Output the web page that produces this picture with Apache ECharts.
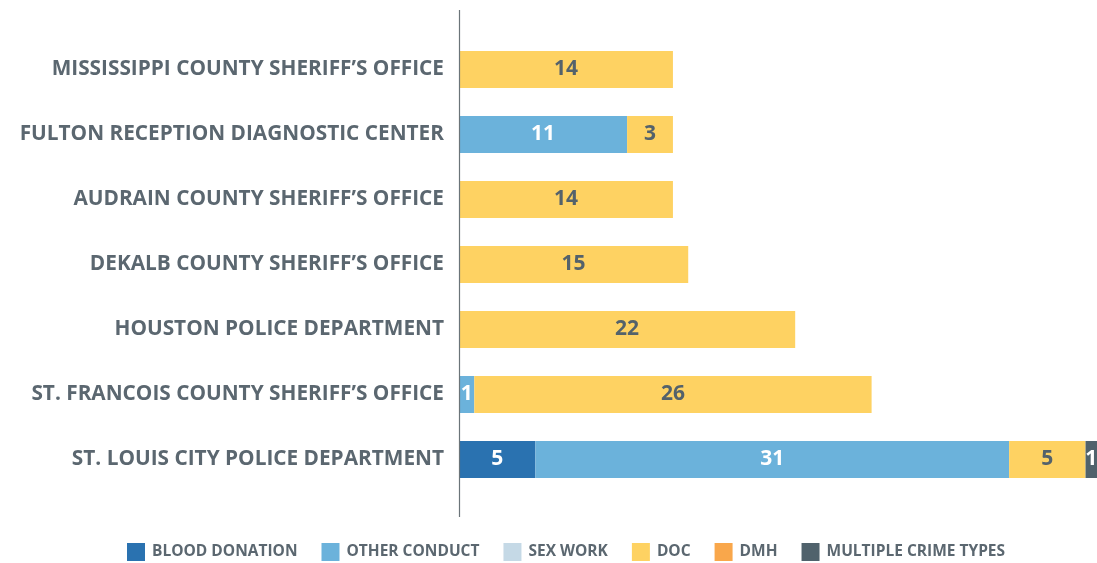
<!DOCTYPE html>
<html><head><meta charset="utf-8">
<script src="https://cdn.jsdelivr.net/npm/echarts@6/dist/echarts.min.js"></script>
<style>html,body{margin:0;padding:0;background:#fff}#c{width:1097px;height:563px}</style>
</head><body><div id="c"></div>
<script>
const categories = [
  "ST. LOUIS CITY POLICE DEPARTMENT",
  "ST. FRANCOIS COUNTY SHERIFF\u2019S OFFICE",
  "HOUSTON POLICE DEPARTMENT",
  "DEKALB COUNTY SHERIFF\u2019S OFFICE",
  "AUDRAIN COUNTY SHERIFF\u2019S OFFICE",
  "FULTON RECEPTION DIAGNOSTIC CENTER",
  "MISSISSIPPI COUNTY SHERIFF\u2019S OFFICE"
];
const bloodDonation = [5, 0, 0, 0, 0, 0, 0];
const otherConduct  = [31, 1, 0, 0, 0, 11, 0];
const sexWork       = [0, 0, 0, 0, 0, 0, 0];
const doc           = [5, 26, 22, 15, 14, 3, 14];
const dmh           = [0, 0, 0, 0, 0, 0, 0];
const multipleCrime = [1, 0, 0, 0, 0, 0, 0];
const seriesNames = ["BLOOD DONATION", "OTHER CONDUCT", "SEX WORK", "DOC", "DMH", "MULTIPLE CRIME TYPES"];

const colors = ["#2a72b0", "#6bb2db", "#c5d9e6", "#fed262", "#f9a74b", "#50626c"];
const labelColors = ["#ffffff", "#ffffff", "#54626b", "#54626b", "#54626b", "#ffffff"];
const allData = [bloodDonation, otherConduct, sexWork, doc, dmh, multipleCrime];

const series = seriesNames.map((name, i) => ({
  name: name,
  type: 'bar',
  stack: 'total',
  barWidth: 37,
  itemStyle: { color: colors[i] },
  label: {
    show: true,
    position: 'inside',
    color: labelColors[i],
    fontFamily: 'Open Sans',
    fontWeight: 'bold',
    fontSize: 21,
    formatter: p => (p.value ? p.value : '')
  },
  data: allData[i].map(v => (v ? v : null))
}));

const chart = echarts.init(document.getElementById('c'), null, { renderer: 'canvas' });
chart.setOption({
  animation: false,
  grid: { left: 459, right: 0, top: 37, bottom: 71 },
  xAxis: { type: 'value', min: 0, max: 41.75, show: false },
  yAxis: {
    type: 'category',
    data: categories,
    axisLine: { show: false },
    axisTick: { show: false },
    axisLabel: {
      margin: 15,
      color: '#5b6770',
      fontFamily: 'Open Sans',
      fontWeight: 'bold',
      fontSize: 20.8
    }
  },
  legend: {
    top: 543,
    left: 127,
    padding: 0,
    icon: 'rect',
    itemWidth: 18,
    itemHeight: 18,
    itemGap: 24,
    textStyle: { color: '#5b6770', fontFamily: 'Open Sans', fontWeight: 'bold', fontSize: 15.5, padding: [0, 0, 0, 2] },
    data: seriesNames
  },
  graphic: [{
    type: 'line',
    shape: { x1: 459.5, y1: 10, x2: 459.5, y2: 517 },
    style: { stroke: '#6b7479', lineWidth: 1.2 },
    z: 100
  }],
  series: series
});
</script></body></html>
